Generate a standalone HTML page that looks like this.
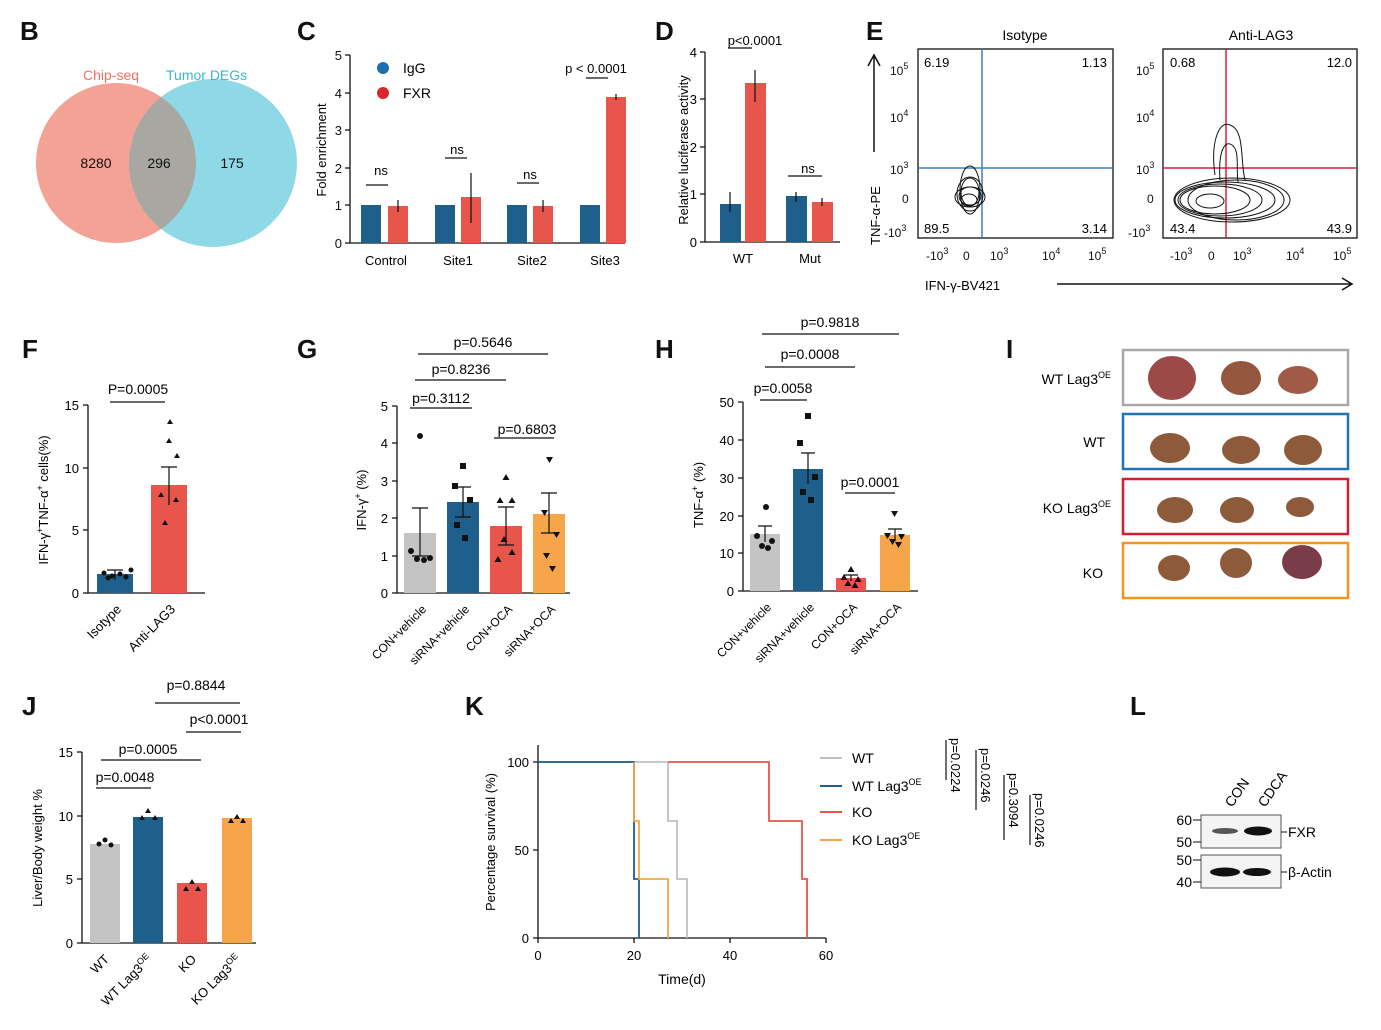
<!DOCTYPE html><html><head><meta charset="utf-8"><style>
html,body{margin:0;padding:0;background:#fff}
svg{display:block;font-family:"Liberation Sans",sans-serif}
</style></head><body>
<svg width="1381" height="1030" viewBox="0 0 1381 1030" xmlns="http://www.w3.org/2000/svg">
<defs><clipPath id="cl"><circle cx="116" cy="163" r="80"/></clipPath></defs>
<g font-weight="bold" font-size="26" fill="#111">
<text x="20" y="40">B</text><text x="297" y="40">C</text><text x="655" y="40">D</text><text x="866" y="40">E</text>
<text x="22" y="358">F</text><text x="297" y="358">G</text><text x="655" y="358">H</text><text x="1006" y="358">I</text>
<text x="22" y="715">J</text><text x="465" y="715">K</text><text x="1130" y="715">L</text></g>
<!-- B -->
<circle cx="116" cy="163" r="80" fill="#f4a295"/>
<circle cx="213" cy="163" r="84" fill="#8fd8e5"/>
<circle cx="213" cy="163" r="84" fill="#a8a7a1" clip-path="url(#cl)"/>
<text x="83" y="80" fill="#f07060" font-size="14">Chip-seq</text>
<text x="166" y="80" fill="#3bb8cc" font-size="14">Tumor DEGs</text>
<g font-size="14" fill="#111" text-anchor="middle"><text x="96" y="168">8280</text><text x="159" y="168">296</text><text x="232" y="168">175</text></g>
<!-- C -->
<g stroke="#111" stroke-width="1.3" fill="none"><path d="M350 55V243H625"/>
<path d="M345 55h5M345 93h5M345 130h5M345 168h5M345 205h5M345 243h5"/></g>
<g font-size="13" text-anchor="end" fill="#111"><text x="342" y="60">5</text><text x="342" y="98">4</text><text x="342" y="135">3</text><text x="342" y="173">2</text><text x="342" y="210">1</text><text x="342" y="248">0</text></g>
<text transform="translate(326 150) rotate(-90)" font-size="13" text-anchor="middle">Fold enrichment</text>
<g fill="#1f5f8c"><rect x="361" y="205" width="20" height="38"/><rect x="435" y="205" width="20" height="38"/><rect x="507" y="205" width="20" height="38"/><rect x="580" y="205" width="20" height="38"/></g>
<g fill="#e8554b"><rect x="388" y="206" width="20" height="37"/><rect x="461" y="197" width="20" height="46"/><rect x="533" y="206" width="20" height="37"/><rect x="606" y="97" width="20" height="146"/></g>
<g stroke="#111" stroke-width="1.2"><path d="M398 200v12M471 173v50M543 200v12M616 94v6"/><path d="M366 185h22M445 158h22M517 183h22M586 78h22"/></g>
<g font-size="13" text-anchor="middle"><text x="381" y="175">ns</text><text x="457" y="154">ns</text><text x="530" y="179">ns</text><text x="596" y="73">p &lt; 0.0001</text>
<text x="386" y="265">Control</text><text x="458" y="265">Site1</text><text x="532" y="265">Site2</text><text x="605" y="265">Site3</text></g>
<circle cx="383" cy="68" r="6" fill="#1a6fb0"/><circle cx="383" cy="93" r="6" fill="#d9252c"/>
<text x="403" y="73" font-size="14">IgG</text><text x="403" y="98" font-size="14">FXR</text>
<!-- D -->
<g stroke="#111" stroke-width="1.3" fill="none"><path d="M705 52V242H840"/><path d="M700 52h5M700 99h5M700 147h5M700 194h5M700 242h5"/></g>
<g font-size="13" text-anchor="end"><text x="697" y="57">4</text><text x="697" y="104">3</text><text x="697" y="152">2</text><text x="697" y="199">1</text><text x="697" y="247">0</text></g>
<text transform="translate(688 150) rotate(-90)" font-size="13" text-anchor="middle">Relative luciferase activity</text>
<rect x="720" y="204" width="21" height="38" fill="#1f5f8c"/><rect x="745" y="83" width="21" height="159" fill="#e8554b"/>
<rect x="786" y="196" width="21" height="46" fill="#1f5f8c"/><rect x="812" y="202" width="21" height="40" fill="#e8554b"/>
<g stroke="#111" stroke-width="1.2"><path d="M730 192v20M755 70v32M796 192v10M822 198v8M728 48h24M788 176h34"/></g>
<g font-size="13" text-anchor="middle"><text x="755" y="45">p&lt;0.0001</text><text x="808" y="173">ns</text><text x="743" y="263">WT</text><text x="810" y="263">Mut</text></g>
<!-- E -->
<g font-size="14" text-anchor="middle"><text x="1025" y="40">Isotype</text><text x="1261" y="40">Anti-LAG3</text></g>
<rect x="918" y="49" width="195" height="189" fill="none" stroke="#111" stroke-width="1.3"/>
<rect x="1163" y="49" width="194" height="189" fill="none" stroke="#111" stroke-width="1.3"/>
<path d="M982 49v189M918 168h195" stroke="#3a7fc4" stroke-width="1.5"/>
<path d="M1226 49v189M1163 168h194" stroke="#d8203c" stroke-width="1.5"/>
<g font-size="13"><text x="924" y="67">6.19</text><text x="1107" y="67" text-anchor="end">1.13</text><text x="924" y="233">89.5</text><text x="1107" y="233" text-anchor="end">3.14</text>
<text x="1170" y="67">0.68</text><text x="1352" y="67" text-anchor="end">12.0</text><text x="1170" y="233">43.4</text><text x="1352" y="233" text-anchor="end">43.9</text></g>
<g fill="none" stroke="#111" stroke-width="1">
<ellipse cx="970" cy="197" rx="15" ry="10"/><ellipse cx="970" cy="194" rx="13" ry="17"/><ellipse cx="970" cy="190" rx="10" ry="24"/><ellipse cx="969" cy="200" rx="8" ry="6"/><ellipse cx="970" cy="196" rx="11" ry="9"/><ellipse cx="970" cy="192" rx="9" ry="14"/>
<ellipse cx="1215" cy="200" rx="35" ry="14"/><ellipse cx="1225" cy="200" rx="50" ry="18"/><ellipse cx="1232" cy="200" rx="58" ry="22"/><ellipse cx="1220" cy="200" rx="42" ry="16"/><ellipse cx="1236" cy="200" rx="48" ry="20"/>
<path d="M1215 175C1210 140 1220 120 1230 125C1245 130 1240 160 1245 180"/><path d="M1220 180C1218 150 1225 140 1232 145C1240 150 1236 170 1238 182"/><ellipse cx="1210" cy="201" rx="14" ry="7"/></g>
<g font-size="12" fill="#111"><text x="890" y="75">10<tspan dy="-6" font-size="9">5</tspan></text><text x="890" y="122">10<tspan dy="-6" font-size="9">4</tspan></text><text x="890" y="174">10<tspan dy="-6" font-size="9">3</tspan></text><text x="902" y="203">0</text><text x="884" y="237">-10<tspan dy="-6" font-size="9">3</tspan></text>
<text x="1136" y="75">10<tspan dy="-6" font-size="9">5</tspan></text><text x="1136" y="122">10<tspan dy="-6" font-size="9">4</tspan></text><text x="1136" y="174">10<tspan dy="-6" font-size="9">3</tspan></text><text x="1147" y="203">0</text><text x="1128" y="237">-10<tspan dy="-6" font-size="9">3</tspan></text>
<text x="926" y="260">-10<tspan dy="-6" font-size="9">3</tspan></text><text x="963" y="260">0</text><text x="990" y="260">10<tspan dy="-6" font-size="9">3</tspan></text><text x="1042" y="260">10<tspan dy="-6" font-size="9">4</tspan></text><text x="1088" y="260">10<tspan dy="-6" font-size="9">5</tspan></text>
<text x="1170" y="260">-10<tspan dy="-6" font-size="9">3</tspan></text><text x="1208" y="260">0</text><text x="1233" y="260">10<tspan dy="-6" font-size="9">3</tspan></text><text x="1286" y="260">10<tspan dy="-6" font-size="9">4</tspan></text><text x="1333" y="260">10<tspan dy="-6" font-size="9">5</tspan></text></g>
<path d="M874 152V55M868 66l6-11 6 11M1057 284H1352M1342 278l10 6-10 6" stroke="#111" stroke-width="1.5" fill="none"/>
<text transform="translate(880 245) rotate(-90)" font-size="13">TNF-α-PE</text>
<text x="925" y="290" font-size="13">IFN-γ-BV421</text>
<!-- F -->
<g stroke="#111" stroke-width="1.3" fill="none"><path d="M88 405V593H205"/><path d="M83 405h5M83 468h5M83 530h5M83 593h5"/></g>
<g font-size="13" text-anchor="end"><text x="79" y="410">15</text><text x="79" y="473">10</text><text x="79" y="535">5</text><text x="79" y="598">0</text></g>
<text transform="translate(48 500) rotate(-90)" font-size="13" text-anchor="middle">IFN-γ<tspan dy="-5" font-size="9">+</tspan><tspan dy="5">TNF-α</tspan><tspan dy="-5" font-size="9">+</tspan><tspan dy="5"> cells(%)</tspan></text>
<rect x="97" y="574" width="36" height="19" fill="#1f5f8c"/><rect x="151" y="485" width="36" height="108" fill="#e8554b"/>
<path d="M115 570v10M107 570h16M169 467v38M161 467h16M110 402h55" stroke="#111" stroke-width="1.2"/>
<text x="138" y="394" font-size="14" text-anchor="middle">P=0.0005</text>
<g fill="#111"><circle cx="104" cy="573" r="2.5"/><circle cx="112" cy="576" r="2.5"/><circle cx="120" cy="574" r="2.5"/><circle cx="126" cy="577" r="2.5"/><circle cx="131" cy="570" r="2.5"/><circle cx="108" cy="578" r="2.5"/>
<path d="M170 419l3 5h-6zM169 438l3 5h-6zM177 453l3 5h-6zM161 492l3 5h-6zM176 497l3 5h-6zM165 520l3 5h-6z"/></g>
<g font-size="13"><text transform="translate(122 610) rotate(-45)" text-anchor="end">Isotype</text><text transform="translate(176 610) rotate(-45)" text-anchor="end">Anti-LAG3</text></g>
<!-- G -->
<g stroke="#111" stroke-width="1.3" fill="none"><path d="M397 406V593H570"/><path d="M392 406h5M392 443h5M392 481h5M392 518h5M392 556h5M392 593h5"/></g>
<g font-size="13" text-anchor="end"><text x="388" y="411">5</text><text x="388" y="448">4</text><text x="388" y="486">3</text><text x="388" y="523">2</text><text x="388" y="561">1</text><text x="388" y="598">0</text></g>
<text transform="translate(366 500) rotate(-90)" font-size="13" text-anchor="middle">IFN-γ<tspan dy="-5" font-size="9">+</tspan><tspan dy="5"> (%)</tspan></text>
<rect x="404" y="533" width="32" height="60" fill="#c4c4c4"/><rect x="447" y="502" width="32" height="91" fill="#1f5f8c"/><rect x="490" y="526" width="32" height="67" fill="#e8554b"/><rect x="533" y="514" width="32" height="79" fill="#f6a54a"/>
<path d="M420 508v48M463 487v30M506 507v38M549 493v40M412 508h16M455 487h16M498 507h16M541 493h16M541 533h16M498 545h16M455 517h16M412 556h16" stroke="#111" stroke-width="1.2"/>
<g fill="#111"><circle cx="420" cy="436" r="3"/><circle cx="411" cy="551" r="3"/><circle cx="417" cy="559" r="3"/><circle cx="424" cy="560" r="3"/><circle cx="430" cy="558" r="3"/>
<rect x="460" y="463" width="6" height="6"/><rect x="452" y="483" width="6" height="6"/><rect x="467" y="497" width="6" height="6"/><rect x="454" y="522" width="6" height="6"/><rect x="462" y="535" width="6" height="6"/>
<path d="M506 474l3.5 6h-7zM500 497l3.5 6h-7zM512 497l3.5 6h-7zM504 536l3.5 6h-7zM512 549l3.5 6h-7zM498 556l3.5 6h-7z"/>
<path d="M546 457h7l-3.5 6zM541 510h7l-3.5 6zM553 532h7l-3.5 6zM543 553h7l-3.5 6zM549 566h7l-3.5 6z"/></g>
<path d="M410 408h62M415 380h91M418 354h130M494 438h60" stroke="#111" stroke-width="1.2"/>
<g font-size="14" text-anchor="middle"><text x="441" y="403">p=0.3112</text><text x="461" y="374">p=0.8236</text><text x="483" y="347">p=0.5646</text><text x="527" y="434">p=0.6803</text></g>
<g font-size="12"><text transform="translate(427 610) rotate(-45)" text-anchor="end">CON+vehicle</text><text transform="translate(470 610) rotate(-45)" text-anchor="end">siRNA+vehicle</text><text transform="translate(513 610) rotate(-45)" text-anchor="end">CON+OCA</text><text transform="translate(556 610) rotate(-45)" text-anchor="end">siRNA+OCA</text></g>
<!-- H -->
<g stroke="#111" stroke-width="1.3" fill="none"><path d="M743 402V591H918"/><path d="M738 402h5M738 440h5M738 478h5M738 516h5M738 553h5M738 591h5"/></g>
<g font-size="13" text-anchor="end"><text x="734" y="407">50</text><text x="734" y="445">40</text><text x="734" y="483">30</text><text x="734" y="521">20</text><text x="734" y="558">10</text><text x="734" y="596">0</text></g>
<text transform="translate(703 495) rotate(-90)" font-size="13" text-anchor="middle">TNF-α<tspan dy="-5" font-size="9">+</tspan><tspan dy="5"> (%)</tspan></text>
<rect x="750" y="534" width="30" height="57" fill="#c4c4c4"/><rect x="793" y="469" width="30" height="122" fill="#1f5f8c"/><rect x="836" y="578" width="30" height="13" fill="#e8554b"/><rect x="880" y="535" width="30" height="56" fill="#f6a54a"/>
<path d="M765 526v16M808 453v31M851 575v6M895 529v12M758 526h14M801 453h14M844 575h14M888 529h14" stroke="#111" stroke-width="1.2"/>
<g fill="#111"><circle cx="766" cy="507" r="3"/><circle cx="757" cy="536" r="3"/><circle cx="772" cy="541" r="3"/><circle cx="762" cy="546" r="3"/><circle cx="768" cy="548" r="3"/>
<rect x="805" y="413" width="6" height="6"/><rect x="797" y="440" width="6" height="6"/><rect x="812" y="474" width="6" height="6"/><rect x="800" y="489" width="6" height="6"/><rect x="808" y="497" width="6" height="6"/>
<path d="M851 566l3.5 6h-7zM844 574l3.5 6h-7zM858 576l3.5 6h-7zM848 580l3.5 6h-7zM855 582l3.5 6h-7z"/>
<path d="M891 511h7l-3.5 6zM884 533h7l-3.5 6zM898 534h7l-3.5 6zM889 539h7l-3.5 6zM895 542h7l-3.5 6z"/></g>
<path d="M760 400h47M765 367h90M762 334h137M845 493h50" stroke="#111" stroke-width="1.2"/>
<g font-size="14" text-anchor="middle"><text x="783" y="393">p=0.0058</text><text x="810" y="359">p=0.0008</text><text x="830" y="327">p=0.9818</text><text x="870" y="487">p=0.0001</text></g>
<g font-size="12"><text transform="translate(772 608) rotate(-45)" text-anchor="end">CON+vehicle</text><text transform="translate(815 608) rotate(-45)" text-anchor="end">siRNA+vehicle</text><text transform="translate(858 608) rotate(-45)" text-anchor="end">CON+OCA</text><text transform="translate(902 608) rotate(-45)" text-anchor="end">siRNA+OCA</text></g>
<!-- I -->
<g fill="none" stroke-width="2.5"><rect x="1123" y="350" width="225" height="55" stroke="#a8a8a8"/><rect x="1123" y="414" width="225" height="55" stroke="#1f74b8"/><rect x="1123" y="479" width="225" height="55" stroke="#d21e32"/><rect x="1123" y="543" width="225" height="55" stroke="#f7941d"/></g>
<g fill="#8d5a3a"><ellipse cx="1172" cy="378" rx="24" ry="22" fill="#9c4a48"/><ellipse cx="1241" cy="378" rx="20" ry="17" fill="#94563e"/><ellipse cx="1298" cy="380" rx="20" ry="14" fill="#a05a48"/>
<ellipse cx="1170" cy="448" rx="20" ry="15"/><ellipse cx="1241" cy="450" rx="19" ry="14"/><ellipse cx="1303" cy="450" rx="19" ry="15"/>
<ellipse cx="1175" cy="510" rx="18" ry="13"/><ellipse cx="1237" cy="510" rx="17" ry="13"/><ellipse cx="1300" cy="507" rx="14" ry="10"/>
<ellipse cx="1174" cy="568" rx="16" ry="13"/><ellipse cx="1236" cy="563" rx="16" ry="15"/><ellipse cx="1302" cy="562" rx="20" ry="17" fill="#7a3c48"/></g>
<g font-size="14" text-anchor="end"><text x="1111" y="384">WT Lag3<tspan dy="-6" font-size="9">OE</tspan></text><text x="1105" y="447">WT</text><text x="1111" y="513">KO Lag3<tspan dy="-6" font-size="9">OE</tspan></text><text x="1103" y="578">KO</text></g>
<!-- J -->
<g stroke="#111" stroke-width="1.3" fill="none"><path d="M82 752V943H256"/><path d="M77 752h5M77 816h5M77 879h5M77 943h5"/></g>
<g font-size="13" text-anchor="end"><text x="73" y="757">15</text><text x="73" y="821">10</text><text x="73" y="884">5</text><text x="73" y="948">0</text></g>
<text transform="translate(42 848) rotate(-90)" font-size="13" text-anchor="middle">Liver/Body weight %</text>
<rect x="90" y="844" width="30" height="99" fill="#c4c4c4"/><rect x="133" y="817" width="30" height="126" fill="#1f5f8c"/><rect x="177" y="883" width="30" height="60" fill="#e8554b"/><rect x="222" y="818" width="30" height="125" fill="#f6a54a"/>
<path d="M96 788h55M101 760h100M155 703h85M186 732h55" stroke="#111" stroke-width="1.2"/>
<g font-size="14" text-anchor="middle"><text x="125" y="782">p=0.0048</text><text x="148" y="754">p=0.0005</text><text x="196" y="690">p=0.8844</text><text x="219" y="724">p&lt;0.0001</text></g>
<g fill="#111"><circle cx="99" cy="844" r="2.5"/><circle cx="105" cy="840" r="2.5"/><circle cx="111" cy="845" r="2.5"/><path d="M148 808l3 5h-6zM142 815l3 5h-6zM155 815l3 5h-6zM192 879l3 5h-6zM186 886l3 5h-6zM198 886l3 5h-6zM237 814l3 5h-6zM231 818l3 5h-6zM243 818l3 5h-6z"/></g>
<g font-size="13"><text transform="translate(110 960) rotate(-45)" text-anchor="end">WT</text><text transform="translate(153 960) rotate(-45)" text-anchor="end">WT Lag3<tspan dy="-5" font-size="9">OE</tspan></text><text transform="translate(197 960) rotate(-45)" text-anchor="end">KO</text><text transform="translate(242 960) rotate(-45)" text-anchor="end">KO Lag3<tspan dy="-5" font-size="9">OE</tspan></text></g>
<!-- K -->
<g stroke="#111" stroke-width="1.3" fill="none"><path d="M538 745V938H826"/><path d="M533 762h5M533 850h5M533 938h5M538 938v5M634 938v5M730 938v5M826 938v5"/></g>
<g font-size="13" text-anchor="end"><text x="529" y="767">100</text><text x="529" y="855">50</text><text x="529" y="943">0</text></g>
<g font-size="13" text-anchor="middle"><text x="538" y="960">0</text><text x="634" y="960">20</text><text x="730" y="960">40</text><text x="826" y="960">60</text><text x="682" y="984" font-size="14">Time(d)</text></g>
<text transform="translate(495 842) rotate(-90)" font-size="13" text-anchor="middle">Percentage survival (%)</text>
<g fill="none" stroke-width="1.8">
<path d="M538 762H668V821H677V879H687V938" stroke="#c0c0c0"/>
<path d="M538 762H634V879H639V938" stroke="#1f5f8c"/>
<path d="M634 762V821H639V879H668V938" stroke="#f6a54a"/>
<path d="M668 762H769V821H802V879H807V938" stroke="#e8554b"/></g>
<g stroke-width="2"><path d="M820 758h22" stroke="#c0c0c0"/><path d="M820 786h22" stroke="#1f5f8c"/><path d="M820 812h22" stroke="#e8554b"/><path d="M820 840h22" stroke="#f6a54a"/></g>
<g font-size="14"><text x="852" y="763">WT</text><text x="852" y="791">WT Lag3<tspan dy="-6" font-size="9">OE</tspan></text><text x="852" y="817">KO</text><text x="852" y="845">KO Lag3<tspan dy="-6" font-size="9">OE</tspan></text></g>
<path d="M946 740v40M976 750v60M1004 775v65M1030 795v50" stroke="#111" stroke-width="1.2"/>
<g font-size="13"><text transform="translate(951 738) rotate(90)">p=0.0224</text><text transform="translate(981 748) rotate(90)">p=0.0246</text><text transform="translate(1009 773) rotate(90)">p=0.3094</text><text transform="translate(1035 793) rotate(90)">p=0.0246</text></g>
<!-- L -->
<rect x="1201" y="815" width="80" height="33" fill="#f4f4f4" stroke="#555"/><rect x="1201" y="855" width="80" height="33" fill="#f4f4f4" stroke="#555"/>
<ellipse cx="1225" cy="831" rx="13" ry="3" fill="#555"/><ellipse cx="1258" cy="831" rx="14" ry="4.5" fill="#111"/>
<ellipse cx="1225" cy="872" rx="15" ry="4.5" fill="#111"/><ellipse cx="1257" cy="872" rx="14" ry="4" fill="#111"/>
<path d="M1193 820h8M1193 842h8M1193 860h8M1193 882h8M1281 832h6M1281 872h6" stroke="#111"/>
<g font-size="14" text-anchor="end"><text x="1192" y="825">60</text><text x="1192" y="847">50</text><text x="1192" y="865">50</text><text x="1192" y="887">40</text></g>
<g font-size="14"><text x="1288" y="837">FXR</text><text x="1288" y="877">β-Actin</text>
<text transform="translate(1232 808) rotate(-55)">CON</text><text transform="translate(1265 808) rotate(-55)">CDCA</text></g>
</svg>
</body></html>
